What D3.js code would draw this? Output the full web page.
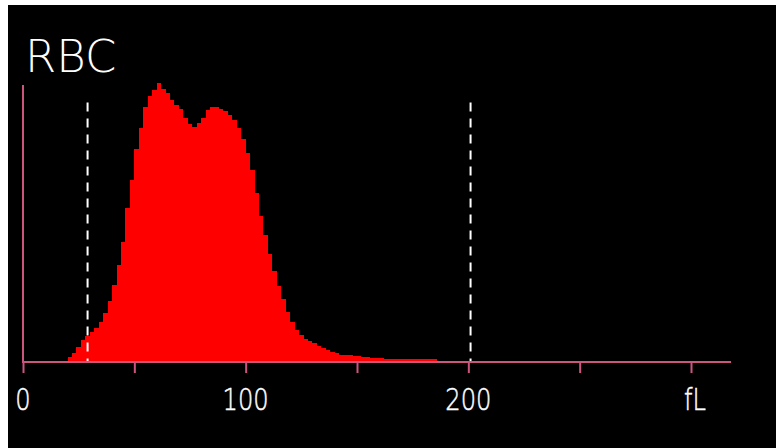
<!DOCTYPE html>
<html>
<head>
<meta charset="utf-8">
<script src="https://cdn.jsdelivr.net/npm/d3@7"></script>
<style>
  html, body { margin: 0; padding: 0; background: #fff; }
  svg { display: block; }
</style>
</head>
<body>
<div id="chart"></div>
<script>
// histogram bins: 2 fL wide, starting at binStart
var binStart = 20;
var binWidth = 2;
var counts = [
  1.8, 3.3, 5.4, 8.0, 9.4, 10.9, 12.3, 14.5, 17.8, 22.1,
  27.9, 35.1, 43.5, 55.8, 65.9, 77.2, 84.8, 92.4, 96.4, 98.5,
  101, 99.0, 97.5, 94.9, 93.1, 91.7, 88.4, 86.2, 85.1, 86.6,
  88.4, 91.3, 92.4, 92.4, 91.7, 90.9, 89.5, 87.7, 84.8, 80.8,
  75.7, 69.6, 61.2, 52.9, 46.0, 39.1, 33.0, 27.5, 22.8, 18.1,
  14.5, 11.6, 9.8, 8.3, 7.6, 6.9, 5.8, 5.1, 4.3, 3.6,
  3.3, 2.7, 2.5, 2.4, 2.2, 2.2, 1.8, 1.8, 1.6, 1.4,
  1.4, 1.1, 1.1, 1.1, 1.1, 1.1, 1.1, 1.1, 1.1, 1.1,
  1.1, 1.1, 1.1
];
var tickValues = [0, 50, 100, 150, 200, 250, 300];
var tickLabels = ["0", "", "100", "", "200", "", "fL"];
var discriminators = [29, 201];
var discHeight = 94;
var axisEnd = 318;

var W = 776, H = 448;
var svg = d3.select("#chart").append("svg")
  .attr("width", W).attr("height", H);

svg.append("rect")
  .attr("x", 8).attr("y", 5)
  .attr("width", W - 8).attr("height", H - 5)
  .attr("fill", "#000");

var x = d3.scaleLinear().domain([0, 300]).range([23, 691]);
var y = d3.scaleLinear().domain([0, 100]).range([362, 86]);

var bins = counts.map(function(c, i) {
  return { x0: binStart + i * binWidth, v: c };
});
bins.push({ x0: binStart + counts.length * binWidth, v: 0 });

var area = d3.area()
  .x(function(d) { return x(d.x0); })
  .y0(y(0))
  .y1(function(d) { return y(d.v); })
  .curve(d3.curveStepAfter);

svg.append("path")
  .datum(bins)
  .attr("d", area)
  .attr("fill", "#ff0000")
  .attr("shape-rendering", "crispEdges");

// discriminator lines
svg.selectAll(".disc")
  .data(discriminators)
  .enter()
  .append("line")
  .attr("class", "disc")
  .attr("x1", function(d) { return x(d); })
  .attr("x2", function(d) { return x(d); })
  .attr("y1", y(discHeight))
  .attr("y2", y(0))
  .attr("stroke", "#fff")
  .attr("stroke-width", 2)
  .attr("stroke-dasharray", "9,7");

var axisColor = "#cc5580";

// y axis line
svg.append("line")
  .attr("x1", x(0)).attr("x2", x(0))
  .attr("y1", y(100) - 1).attr("y2", y(0))
  .attr("stroke", axisColor).attr("stroke-width", 2);

// x axis
var xAxis = d3.axisBottom(x)
  .tickValues(tickValues)
  .tickSize(11)
  .tickFormat(function(d, i) { return ""; });
var gx = svg.append("g")
  .attr("transform", "translate(0," + y(0) + ")")
  .call(xAxis);
gx.select(".domain").remove();
gx.selectAll(".tick line")
  .attr("stroke", axisColor).attr("stroke-width", 2);

svg.append("line")
  .attr("x1", x(0) - 1).attr("x2", x(axisEnd))
  .attr("y1", y(0)).attr("y2", y(0))
  .attr("stroke", axisColor).attr("stroke-width", 2);

svg.selectAll(".tlabel")
  .data(tickValues)
  .enter()
  .append("text")
  .attr("class", "tlabel")
  .attr("transform", function(d, i) {
    var px = x(d) + (i == tickValues.length - 1 ? 4 : 0);
    return "translate(" + px + ",410) scale(0.78,1)";
  })
  .attr("text-anchor", "middle")
  .attr("fill", "#fff")
  .attr("stroke", "#fff")
  .attr("stroke-width", 0.5)
  .style("font-family", "'DejaVu Sans', sans-serif")
  .style("font-weight", 200)
  .style("font-size", "31px")
  .text(function(d, i) { return tickLabels[i]; });

svg.append("text")
  .attr("x", 25)
  .attr("y", 72)
  .attr("fill", "#fff")
  .style("font-family", "'DejaVu Sans', sans-serif")
  .style("font-weight", 200)
  .style("font-size", "45px")
  .text("RBC");
</script>
</body>
</html>
